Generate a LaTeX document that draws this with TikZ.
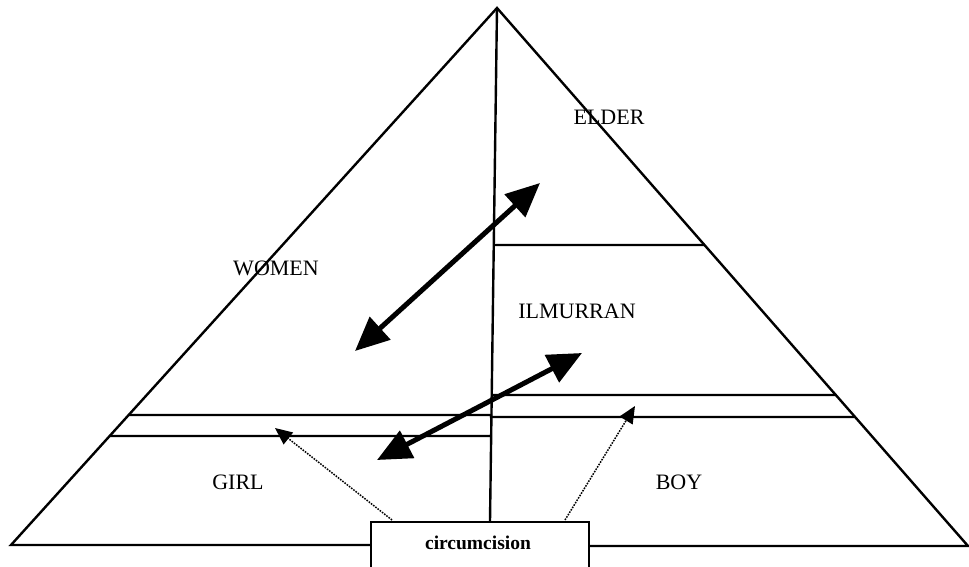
\documentclass[tikz,border=0pt]{standalone}
\usepackage{fontspec}
\setmainfont{Liberation Serif}
\usetikzlibrary{arrows.meta}
\begin{document}
\begin{tikzpicture}[x=1pt,y=-1pt,
  edge/.style={line width=2.4pt, line join=miter},
  band/.style={line width=2.4pt},
  bigarrow/.style={line width=5pt, {Triangle[length=34pt,width=30pt]}-{Triangle[length=34pt,width=30pt]}},
  dotarrow/.style={line width=1.5pt, dash pattern=on 1.6pt off 1.2pt, -{Triangle[length=17pt,width=15pt]}},
  lbl/.style={font=\fontsize{22}{26}\selectfont, inner sep=0pt},
  boxlbl/.style={font=\fontsize{19.5}{23}\selectfont\bfseries, inner sep=0pt}]
\useasboundingbox (0,0) rectangle (969,567);
% corners
\coordinate (apex) at (497,8);
\coordinate (bl) at (11,545);
\coordinate (br) at (968,546);
\coordinate (vb) at (490,521);
% box
\node[draw, line width=2.2pt, minimum width=218pt, minimum height=70pt, anchor=north west, inner sep=0pt] (circ) at (370,521) {};
\node[boxlbl] (circtxt) at (478,543) {circumcision};
% triangle
\draw[edge] (circ.west |- bl) -- (bl) -- (apex) -- (br) -- (circ.east |- br);
% vertical divider
\draw[band] (apex) -- (vb);
% bands
\draw[band] (493,245) -- (intersection of 0,245--1,245 and apex--br);
\draw[band] (intersection of 0,415--1,415 and apex--bl) -- (491,415) -- (491,417) -- (intersection of 0,417--1,417 and apex--br);
\draw[band] (intersection of 0,436--1,436 and apex--bl) -- (490,436);
\draw[band] (491,395) -- (intersection of 0,395--1,395 and apex--br);
% labels
\node[lbl] (elder) at (609,117) {ELDER};
\node[lbl] (women) at (276,268) {WOMEN};
\node[lbl] (ilm) at (577,311) {ILMURRAN};
\node[lbl] (girl) at (238,482) {GIRL};
\node[lbl] (boy) at (679,482) {BOY};
% arrows
\coordinate (a1s) at (355,351);
\coordinate (a1e) at (540,183);
\coordinate (a2s) at (377,460);
\coordinate (a2e) at (582,353);
\draw[bigarrow] (a1s) -- (a1e);
\draw[bigarrow] (a2s) -- (a2e);
\coordinate (d1s) at (392,520);
\coordinate (d1e) at (275,428);
\coordinate (d2s) at (565,520);
\coordinate (d2e) at (635,406);
\draw[dotarrow] (d1s) -- (d1e);
\draw[dotarrow] (d2s) -- (d2e);
\end{tikzpicture}
\end{document}
